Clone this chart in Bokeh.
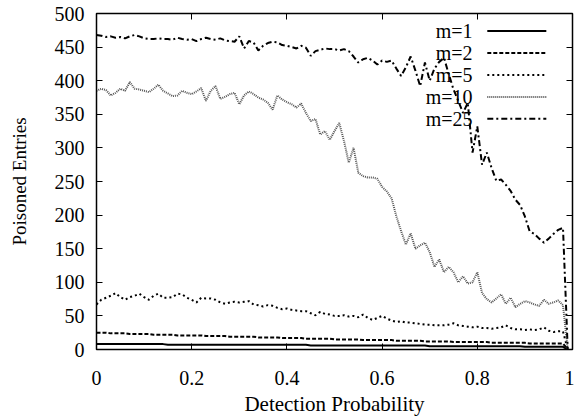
from bokeh.plotting import figure
from bokeh.models import LinearAxis, Range1d, FixedTicker, CustomJSTickFormatter
from bokeh.core.properties import value
from bokeh.embed import file_html
from bokeh.resources import INLINE

# ---------------- data ----------------
detection_prob = [round(i * 0.01, 2) for i in range(100)]

m1 = [8, 8, 8, 8, 8, 8, 8, 8, 8, 8,
      8, 8, 8, 8, 8, 7, 7, 7, 7, 7,
      7, 7, 7, 7, 7, 7, 7, 7, 7, 7,
      7, 7, 7, 7, 7, 7, 7, 7, 7, 7,
      7, 7, 7, 7, 7, 6, 6, 6, 6, 6,
      6, 6, 6, 6, 6, 6, 6, 6, 6, 6,
      6, 6, 6, 6, 6, 6, 6, 6, 6, 6,
      5, 5, 5, 5, 5, 5, 5, 5, 5, 5,
      5, 5, 5, 5, 5, 5, 5, 5, 5, 5,
      4, 4, 4, 4, 4, 4, 4, 4, 4, 0]

m2 = [25, 25, 25, 24, 24, 24, 24, 23, 23, 23,
      23, 23, 22, 22, 22, 22, 22, 21, 21, 21,
      21, 21, 21, 20, 20, 20, 20, 20, 19, 19,
      19, 19, 19, 19, 18, 18, 18, 18, 18, 17,
      17, 17, 17, 17, 16, 16, 16, 16, 16, 16,
      15, 15, 15, 15, 15, 15, 14, 14, 14, 14,
      14, 14, 14, 13, 13, 13, 13, 13, 13, 12,
      12, 12, 12, 12, 12, 11, 11, 11, 11, 11,
      11, 11, 11, 10, 10, 10, 10, 10, 10, 10,
      10, 9, 9, 9, 9, 9, 9, 9, 9, 0]

m5 = [67, 74, 77, 80, 84, 78, 74, 78, 80, 83,
      78, 74, 80, 83, 77, 77, 78, 83, 82, 77,
      74, 70, 77, 76, 76, 74, 70, 68, 70, 71,
      70, 71, 72, 67, 66, 64, 66, 65, 62, 60,
      61, 59, 58, 57, 57, 54, 51, 56, 53, 52,
      50, 50, 51, 49, 50, 48, 52, 47, 44, 47,
      50, 46, 43, 41, 42, 40, 40, 39, 38, 37,
      37, 36, 36, 36, 37, 39, 36, 35, 34, 33,
      34, 32, 32, 31, 32, 33, 36, 32, 30, 30,
      29, 30, 29, 30, 33, 28, 26, 27, 27, 0]

m10 = [385, 388, 386, 378, 382, 388, 385, 398, 388, 387,
       385, 383, 388, 394, 385, 381, 377, 378, 385, 382,
       380, 384, 389, 370, 385, 392, 373, 376, 380, 382,
       365, 378, 384, 380, 375, 372, 367, 357, 378, 372,
       368, 365, 360, 366, 352, 340, 343, 320, 325, 312,
       325, 337, 310, 278, 300, 263, 258, 256, 256, 254,
       242, 235, 225, 198, 176, 156, 173, 150, 155, 159,
       145, 123, 134, 115, 123, 115, 100, 109, 98, 100,
       115, 84, 75, 70, 76, 82, 68, 77, 63, 68,
       72, 70, 67, 65, 74, 68, 70, 73, 66, 0]

m25 = [468, 467, 465, 466, 464, 465, 463, 466, 468, 466,
       463, 462, 462, 463, 462, 462, 461, 464, 462, 461,
       462, 459, 462, 464, 462, 461, 463, 460, 459, 458,
       466, 448, 459, 457, 445, 452, 456, 458, 457, 453,
       452, 450, 448, 452, 449, 437, 444, 446, 448, 447,
       447, 445, 447, 444, 436, 427, 432, 434, 430, 424,
       430, 428, 430, 418, 407, 420, 436, 415, 392, 427,
       400, 418, 428, 434, 410, 387, 370, 352, 367, 293,
       332, 275, 293, 270, 251, 253, 245, 236, 223, 215,
       198, 176, 172, 165, 159, 165, 172, 178, 181, 0]

series_labels = ["m=1", "m=2", "m=5", "m=10", "m=25"]
series_values = [m1, m2, m5, m10, m25]

x_ticks = [0, 0.2, 0.4, 0.6, 0.8, 1]
y_ticks = [0, 50, 100, 150, 200, 250, 300, 350, 400, 450, 500]

# ---------------- styles ----------------
FONT = "Liberation Serif"
FS = "20px"
styles = [
    dict(line_color="black", line_width=2, line_dash="solid"),
    dict(line_color="black", line_width=2, line_dash="4 2"),
    dict(line_color="black", line_width=2, line_dash="2 3"),
    dict(line_color="#555555", line_width=2, line_dash="1 1"),
    dict(line_color="black", line_width=2, line_dash="6 3 2 3"),
]

# legend placement (data coords of the key box)
LEG_TEXT_X = 0.79
LEG_LINE_X0 = 0.821
LEG_LINE_X1 = 0.945
LEG_TOP_Y = 474
LEG_STEP_Y = 32.7

p = figure(frame_width=476, frame_height=336,
           x_range=Range1d(0, 1), y_range=Range1d(0, 500),
           output_backend="svg", toolbar_location=None,
           min_border_left=96, min_border_top=13, min_border_right=2,
           min_border_bottom=10,
           x_axis_label="Detection Probability", y_axis_label="Poisoned Entries")
p.background_fill_color = "white"
p.border_fill_color = "white"
p.outline_line_color = "black"
p.outline_line_width = 1.5
p.xgrid.visible = False
p.ygrid.visible = False

fmt = CustomJSTickFormatter(code="return String(Math.round(tick*10)/10);")
blank = CustomJSTickFormatter(code="return '';")

for ax in (p.xaxis[0], p.yaxis[0]):
    ax.major_tick_in = 6
    ax.major_tick_out = 0
    ax.minor_tick_line_color = None
    ax.axis_line_color = "black"
    ax.major_label_text_font = FONT
    ax.major_label_text_font_size = FS
    ax.major_label_text_color = "black"
    ax.axis_label_text_font = FONT
    ax.axis_label_text_font_style = "normal"
    ax.axis_label_text_color = "black"

p.xaxis[0].ticker = FixedTicker(ticks=x_ticks)
p.xaxis[0].formatter = fmt
p.xaxis[0].major_label_standoff = 21
p.xaxis[0].axis_label_standoff = 4
p.xaxis[0].axis_label_text_font_size = "21px"
p.yaxis[0].ticker = FixedTicker(ticks=y_ticks)
p.yaxis[0].major_label_standoff = 12
p.yaxis[0].axis_label_standoff = 22
p.yaxis[0].axis_label_text_font_size = "19px"

# mirrored ticks
top = LinearAxis(ticker=FixedTicker(ticks=x_ticks), formatter=blank,
                 major_tick_in=6, major_tick_out=0,
                 minor_tick_line_color=None, major_label_text_font_size="1px",
                 major_label_standoff=0, axis_line_color="black")
right = LinearAxis(ticker=FixedTicker(ticks=y_ticks), formatter=blank,
                   major_tick_in=6, major_tick_out=0,
                   minor_tick_line_color=None, major_label_text_font_size="1px",
                   major_label_standoff=0, axis_line_color="black")
p.add_layout(top, "above")
p.add_layout(right, "right")

for vals, st in zip(series_values, styles):
    p.line(detection_prob, vals, **st)

# legend (label left of key, gnuplot style)
for i, (lab, st) in enumerate(zip(series_labels, styles)):
    yy = LEG_TOP_Y - i * LEG_STEP_Y
    p.text(x=[LEG_TEXT_X], y=[yy], text=[lab], text_align="right", text_baseline="middle",
           text_font=value(FONT), text_font_size=FS, text_color="black")
    p.line([LEG_LINE_X0, LEG_LINE_X1], [yy, yy], **st)

open("out.html", "w").write(file_html(p, INLINE))
